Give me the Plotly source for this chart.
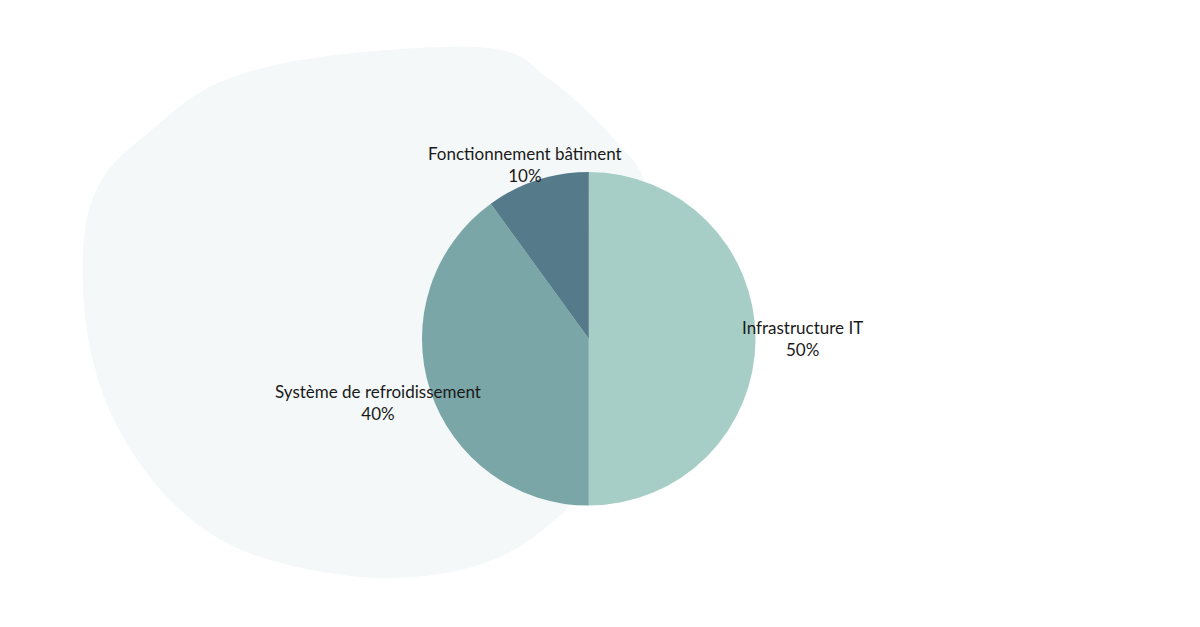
import plotly.graph_objects as go

labels = ["Infrastructure IT", "Système de refroidissement", "Fonctionnement bâtiment"]
values = [50, 40, 10]
colors = ["#a6cec6", "#7aa6a8", "#557a89"]

W, H = 1200, 627

# background blob outline (pixel coords)
blob = [(480, 40), (540, 70), (605, 130), (640, 190), (630, 330), (590, 460),
        (500, 545), (380, 570), (250, 548), (170, 500), (110, 420), (80, 330),
        (76, 230), (95, 170), (140, 125), (210, 75), (320, 48)]


def to_paper(p):
    return (p[0] / W, 1 - p[1] / H)


def smooth_path(pts):
    n = len(pts)
    pp = [to_paper(p) for p in pts]
    d = "M %.4f,%.4f " % pp[0]
    for i in range(n):
        p0, p1, p2, p3 = pp[i - 1], pp[i], pp[(i + 1) % n], pp[(i + 2) % n]
        c1 = (p1[0] + (p2[0] - p0[0]) / 6, p1[1] + (p2[1] - p0[1]) / 6)
        c2 = (p2[0] - (p3[0] - p1[0]) / 6, p2[1] - (p3[1] - p1[1]) / 6)
        d += "C %.4f,%.4f %.4f,%.4f %.4f,%.4f " % (c1 + c2 + p2)
    return d + "Z"


fig = go.Figure(go.Pie(labels=labels, values=values, sort=False, direction="clockwise",
                       marker=dict(colors=colors), textinfo="none", hoverinfo="label+percent",
                       showlegend=False,
                       domain=dict(x=[0.345, 0.623], y=[0.206, 0.739])))

fig.add_shape(type="path", path=smooth_path(blob), xref="paper", yref="paper",
              fillcolor="#f4f8f8", line=dict(width=0), layer="below")

label_pos = [(857, 330), (265, 394), (517, 133)]
total = sum(values)
for lab, v, (px, py) in zip(labels, values, label_pos):
    fig.add_annotation(x=px / W, y=1 - py / H, xref="paper", yref="paper", showarrow=False,
                       text="%s<br>%d%%" % (lab, round(100 * v / total)),
                       font=dict(size=17, color="#1a1a1a", family="Lato"))

fig.update_layout(width=W, height=H, margin=dict(l=0, r=0, t=0, b=0),
                  paper_bgcolor="white", plot_bgcolor="white")
fig.write_html("out.html")
